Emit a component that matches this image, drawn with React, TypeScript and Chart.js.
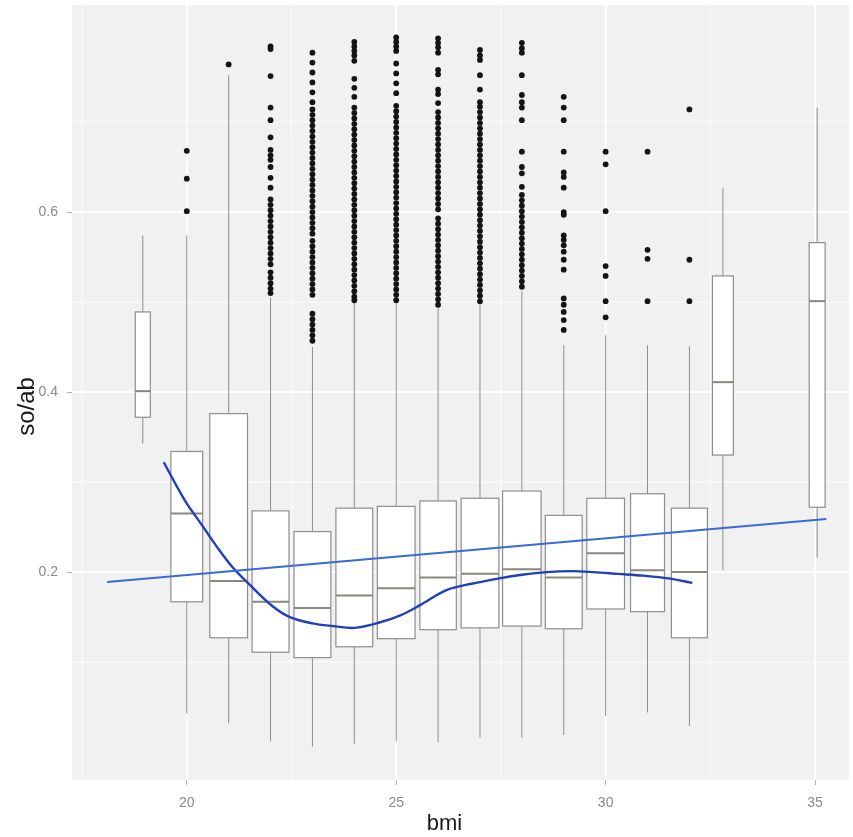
import React, { useEffect, useRef } from "react";
import { Chart, registerables } from "chart.js";

Chart.register(...registerables);

// ---- data ----
const bmiGroups = [18.95, 20, 21, 22, 23, 24, 25, 26, 27, 28, 29, 30, 31, 32, 32.8, 35.05];
const boxWidths = [0.36, 0.76, 0.9, 0.88, 0.88, 0.88, 0.9, 0.87, 0.9, 0.92, 0.88, 0.9, 0.81, 0.86, 0.5, 0.38];
const whiskerLow = [0.343, 0.043, 0.032, 0.012, 0.006, 0.009, 0.012, 0.011, 0.016, 0.016, 0.019, 0.04, 0.044, 0.029, 0.202, 0.216];
const q1 = [0.372, 0.167, 0.127, 0.111, 0.105, 0.117, 0.126, 0.136, 0.138, 0.14, 0.137, 0.159, 0.156, 0.127, 0.33, 0.272];
const medians = [0.401, 0.265, 0.19, 0.167, 0.16, 0.174, 0.182, 0.194, 0.198, 0.203, 0.194, 0.221, 0.202, 0.2, 0.411, 0.501];
const q3 = [0.489, 0.334, 0.376, 0.268, 0.245, 0.271, 0.273, 0.279, 0.282, 0.29, 0.263, 0.282, 0.287, 0.271, 0.529, 0.566];
const whiskerHigh = [0.574, 0.574, 0.752, 0.505, 0.45, 0.499, 0.499, 0.493, 0.499, 0.512, 0.452, 0.463, 0.452, 0.451, 0.627, 0.716];

const out19: number[] = [];
const out20 = [0.668, 0.637, 0.601];
const out21 = [0.764];
const out22 = [0.784, 0.781, 0.751, 0.716, 0.702, 0.683, 0.669, 0.663, 0.658, 0.65, 0.638, 0.627, 0.614, 0.608, 0.602, 0.596, 0.59, 0.584, 0.578, 0.572, 0.566, 0.56, 0.554, 0.548, 0.542, 0.533, 0.527, 0.521, 0.515, 0.51];
const out23 = [0.777, 0.766, 0.755, 0.744, 0.733, 0.722, 0.714, 0.708, 0.702, 0.696, 0.69, 0.684, 0.678, 0.672, 0.666, 0.66, 0.654, 0.648, 0.642, 0.636, 0.63, 0.624, 0.618, 0.612, 0.606, 0.6, 0.594, 0.588, 0.582, 0.576, 0.568, 0.562, 0.556, 0.55, 0.544, 0.538, 0.532, 0.526, 0.52, 0.514, 0.508, 0.487, 0.481, 0.475, 0.469, 0.463, 0.457];
const out24 = [0.789, 0.784, 0.779, 0.774, 0.768, 0.748, 0.738, 0.728, 0.716, 0.71, 0.704, 0.698, 0.692, 0.686, 0.68, 0.674, 0.668, 0.662, 0.656, 0.65, 0.644, 0.638, 0.632, 0.626, 0.62, 0.614, 0.608, 0.602, 0.596, 0.59, 0.584, 0.578, 0.572, 0.566, 0.56, 0.554, 0.548, 0.542, 0.536, 0.53, 0.524, 0.518, 0.512, 0.506, 0.502];
const out25 = [0.794, 0.789, 0.784, 0.779, 0.765, 0.754, 0.743, 0.732, 0.718, 0.712, 0.706, 0.7, 0.694, 0.688, 0.682, 0.676, 0.67, 0.664, 0.658, 0.652, 0.646, 0.64, 0.634, 0.628, 0.622, 0.616, 0.61, 0.604, 0.598, 0.592, 0.586, 0.58, 0.574, 0.568, 0.562, 0.556, 0.55, 0.544, 0.538, 0.532, 0.526, 0.52, 0.514, 0.508, 0.502];
const out26 = [0.793, 0.788, 0.783, 0.777, 0.758, 0.753, 0.736, 0.731, 0.721, 0.711, 0.705, 0.699, 0.693, 0.687, 0.681, 0.675, 0.669, 0.663, 0.657, 0.651, 0.645, 0.639, 0.633, 0.627, 0.621, 0.615, 0.609, 0.603, 0.593, 0.587, 0.581, 0.575, 0.569, 0.563, 0.557, 0.551, 0.545, 0.539, 0.533, 0.527, 0.521, 0.515, 0.509, 0.503, 0.497];
const out27 = [0.78, 0.774, 0.769, 0.752, 0.736, 0.722, 0.717, 0.711, 0.705, 0.699, 0.693, 0.687, 0.681, 0.675, 0.669, 0.663, 0.657, 0.651, 0.645, 0.639, 0.633, 0.627, 0.621, 0.615, 0.609, 0.603, 0.597, 0.591, 0.585, 0.579, 0.573, 0.567, 0.561, 0.555, 0.549, 0.543, 0.537, 0.531, 0.525, 0.519, 0.513, 0.507, 0.501];
const out28 = [0.788, 0.782, 0.777, 0.752, 0.73, 0.722, 0.716, 0.702, 0.667, 0.65, 0.643, 0.628, 0.619, 0.613, 0.607, 0.601, 0.595, 0.589, 0.583, 0.577, 0.571, 0.565, 0.559, 0.553, 0.547, 0.541, 0.535, 0.529, 0.523, 0.517];
const out29 = [0.728, 0.716, 0.702, 0.667, 0.644, 0.639, 0.627, 0.6, 0.597, 0.574, 0.569, 0.563, 0.556, 0.547, 0.536, 0.504, 0.497, 0.489, 0.48, 0.469];
const out30 = [0.667, 0.653, 0.601, 0.54, 0.529, 0.501, 0.483];
const out31 = [0.667, 0.558, 0.548, 0.501];
const out32 = [0.714, 0.547, 0.501];
const out33: number[] = [];
const out35: number[] = [];
const outliers = [out19, out20, out21, out22, out23, out24, out25, out26, out27, out28, out29, out30, out31, out32, out33, out35];

const fitX = [18.1, 35.27];
const fitY = [0.189, 0.259];

const loessX = [19.45, 19.95, 20.35, 20.72, 21.1, 21.5, 22.05, 22.46, 23.0, 23.5, 24.0, 24.6, 25.1, 25.56, 26.2, 26.8, 27.46, 28.0, 28.59, 29.2, 29.7, 30.3, 30.9, 31.5, 32.07];
const loessY = [0.322, 0.28, 0.253, 0.228, 0.205, 0.186, 0.162, 0.15, 0.143, 0.14, 0.138, 0.144, 0.152, 0.163, 0.18, 0.187, 0.193, 0.197, 0.2, 0.201, 0.2, 0.198, 0.196, 0.193, 0.188];

const xMajor = [20, 25, 30, 35];
const xMinor = [17.5, 22.5, 27.5, 32.5];
const yMajor = [0.2, 0.4, 0.6];
const yMinor = [0.1, 0.3, 0.5, 0.7];

const xTitle = "bmi";
const yTitle = "so/ab";

const FONT = '"Liberation Sans", Arial, sans-serif';

const panelPlugin = {
  id: "panel",
  beforeDraw(chart: any) {
    const { ctx, chartArea: a, scales } = chart;
    const x = scales.x, y = scales.y;
    ctx.save();
    ctx.fillStyle = "#f1f1f1";
    ctx.fillRect(a.left, a.top, a.right - a.left, a.bottom - a.top);
    ctx.strokeStyle = "#ffffff";
    const vline = (v: number, w: number) => {
      const px = x.getPixelForValue(v);
      ctx.lineWidth = w;
      ctx.beginPath(); ctx.moveTo(px, a.top); ctx.lineTo(px, a.bottom); ctx.stroke();
    };
    const hline = (v: number, w: number) => {
      const py = y.getPixelForValue(v);
      ctx.lineWidth = w;
      ctx.beginPath(); ctx.moveTo(a.left, py); ctx.lineTo(a.right, py); ctx.stroke();
    };
    xMinor.forEach((v) => vline(v, 0.8));
    yMinor.forEach((v) => hline(v, 0.8));
    xMajor.forEach((v) => vline(v, 1.8));
    yMajor.forEach((v) => hline(v, 1.8));
    ctx.restore();
  },
};

const boxPlugin = {
  id: "boxes",
  beforeDatasetsDraw(chart: any) {
    const { ctx, chartArea: a, scales } = chart;
    const x = scales.x, y = scales.y;
    ctx.save();
    ctx.beginPath();
    ctx.rect(a.left, a.top, a.right - a.left, a.bottom - a.top);
    ctx.clip();
    ctx.strokeStyle = "#8e8e8e";
    for (let i = 0; i < bmiGroups.length; i++) {
      const cx = x.getPixelForValue(bmiGroups[i]);
      const l = x.getPixelForValue(bmiGroups[i] - boxWidths[i] / 2);
      const r = x.getPixelForValue(bmiGroups[i] + boxWidths[i] / 2);
      const yLo = y.getPixelForValue(whiskerLow[i]);
      const yQ1 = y.getPixelForValue(q1[i]);
      const yMed = y.getPixelForValue(medians[i]);
      const yQ3 = y.getPixelForValue(q3[i]);
      const yHi = y.getPixelForValue(whiskerHigh[i]);
      ctx.lineWidth = 1;
      ctx.beginPath();
      ctx.moveTo(cx, yHi); ctx.lineTo(cx, yQ3);
      ctx.moveTo(cx, yQ1); ctx.lineTo(cx, yLo);
      ctx.stroke();
      ctx.fillStyle = "#ffffff";
      ctx.fillRect(l, yQ3, r - l, yQ1 - yQ3);
      ctx.lineWidth = 1.2;
      ctx.strokeRect(l, yQ3, r - l, yQ1 - yQ3);
      ctx.lineWidth = 2;
      ctx.strokeStyle = "#8a877c";
      ctx.beginPath(); ctx.moveTo(l, yMed); ctx.lineTo(r, yMed); ctx.stroke();
      ctx.strokeStyle = "#8e8e8e";
    }
    ctx.restore();
  },
};

const titlePlugin = {
  id: "axisTitles",
  afterDraw(chart: any) {
    const { ctx, chartArea: a } = chart;
    ctx.save();
    ctx.fillStyle = "#1a1a1a";
    ctx.textAlign = "center";
    ctx.textBaseline = "middle";
    ctx.font = `22px ${FONT}`;
    ctx.fillText(xTitle, (a.left + a.right) / 2 - 16, a.bottom + 44);
    ctx.font = `24px ${FONT}`;
    ctx.translate(27, (a.top + a.bottom) / 2 + 14);
    ctx.rotate(-Math.PI / 2);
    ctx.fillText(yTitle, 0, 0);
    ctx.restore();
  },
};

export default function App() {
  const ref = useRef<HTMLCanvasElement>(null);
  useEffect(() => {
    if (!ref.current) return;
    const outlierPoints: { x: number; y: number }[] = [];
    outliers.forEach((arr, i) => arr.forEach((v) => outlierPoints.push({ x: bmiGroups[i], y: v })));
    const chart = new Chart(ref.current, {
      type: "scatter",
      data: {
        datasets: [
          {
            label: "outliers",
            data: outlierPoints,
            pointRadius: 2.9,
            pointBackgroundColor: "#141414",
            pointBorderWidth: 0,
            showLine: false,
          } as any,
          {
            label: "lm",
            data: fitX.map((v, i) => ({ x: v, y: fitY[i] })),
            showLine: true,
            borderColor: "#3a6ad4",
            borderWidth: 2,
            pointRadius: 0,
          } as any,
          {
            label: "loess",
            data: loessX.map((v, i) => ({ x: v, y: loessY[i] })),
            showLine: true,
            borderColor: "#1f3fbd",
            borderWidth: 2.4,
            pointRadius: 0,
            tension: 0.35,
          } as any,
        ],
      },
      options: {
        animation: false,
        responsive: false,
        devicePixelRatio: 1,
        events: [],
        layout: { padding: { top: 5, right: 3, left: 0, bottom: 0 } },
        plugins: { legend: { display: false }, tooltip: { enabled: false }, title: { display: false } },
        scales: {
          x: {
            type: "linear",
            min: 17.26,
            max: 35.81,
            afterBuildTicks: (s: any) => { s.ticks = xMajor.map((v) => ({ value: v })); },
            afterFit: (s: any) => { s.height = 57; s.paddingLeft = 0; s.paddingRight = 0; },
            border: { display: false },
            grid: { display: true, drawOnChartArea: false, drawTicks: true, tickLength: 5, color: "#b0b0b0" },
            ticks: { color: "#8a8a8a", font: { size: 14, family: FONT }, padding: 10, maxRotation: 0, callback: (v: any) => String(v) },
          },
          y: {
            type: "linear",
            min: -0.031,
            max: 0.83,
            afterBuildTicks: (s: any) => { s.ticks = yMajor.map((v) => ({ value: v })); },
            afterFit: (s: any) => { s.width = 72; s.paddingTop = 0; s.paddingBottom = 0; },
            border: { display: false },
            grid: { display: true, drawOnChartArea: false, drawTicks: true, tickLength: 5, color: "#b0b0b0" },
            ticks: { color: "#8a8a8a", font: { size: 14, family: FONT }, padding: 9, callback: (v: any) => String(v) },
          },
        },
      },
      plugins: [panelPlugin, boxPlugin, titlePlugin],
    });
    return () => chart.destroy();
  }, []);
  return (
    <div style={{ position: "fixed", left: 0, top: 0, width: 853, height: 837, background: "#ffffff" }}>
      <canvas ref={ref} width={853} height={837} style={{ display: "block" }} />
    </div>
  );
}
